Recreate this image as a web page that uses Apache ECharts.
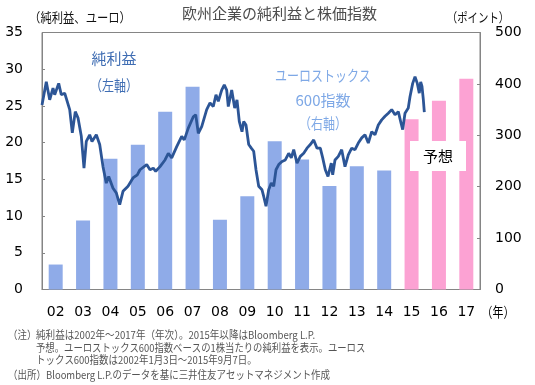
<!DOCTYPE html>
<html>
<head>
<meta charset="utf-8">
<script src="https://cdn.jsdelivr.net/npm/echarts@6/dist/echarts.min.js"></script>
<style>
html,body{margin:0;padding:0;background:#fff;}
#c{width:535px;height:385px;}
</style>
</head>
<body>
<div id="c"></div>
<script>
// Categories (years) and net profit per share (left axis, EUR)
const years = ['02','03','04','05','06','07','08','09','10','11','12','13','14','15','16','17'];
const netProfit = [3.4, 9.4, 17.8, 19.7, 24.2, 27.6, 9.5, 12.7, 20.2, 17.7, 14.1, 16.8, 16.2, 23.2, 25.7, 28.7];
const forecastFrom = 13; // index of '15' (Bloomberg forecast from 2015)

// STOXX Europe 600 index (right axis), x in category units from the start of '02'
const stoxxX = [0.00,0.157,0.281,0.402,0.464,0.610,0.705,0.829,1.012,1.107,1.216,1.315,1.436,1.534,1.618,1.742,1.826,1.984,2.108,2.228,2.349,2.437,2.594,2.714,2.838,2.959,3.142,3.324,3.481,3.580,3.825,3.945,4.066,4.153,4.311,4.493,4.614,4.738,4.921,5.103,5.198,5.344,5.527,5.615,5.710,5.834,6.016,6.137,6.257,6.356,6.440,6.564,6.659,6.747,6.805,6.930,7.039,7.123,7.207,7.306,7.368,7.452,7.551,7.646,7.733,7.817,7.916,8.037,8.099,8.183,8.281,8.376,8.464,8.548,8.647,8.767,8.888,9.012,9.107,9.195,9.315,9.436,9.560,9.680,9.801,9.925,10.046,10.166,10.254,10.349,10.447,10.568,10.619,10.703,10.824,10.948,11.068,11.189,11.313,11.434,11.554,11.679,11.799,11.920,12.044,12.164,12.285,12.409,12.530,12.650,12.774,12.895,13.016,13.114,13.176,13.260,13.380,13.443,13.541,13.626,13.710,13.782,13.833,13.881,13.929,13.966];
const stoxxY = [359,404,369,392,379,401,379,382,350,305,346,334,298,236,288,301,288,301,282,239,207,220,197,188,165,191,201,217,223,233,243,233,236,230,239,252,265,256,278,298,291,314,336,340,304,317,350,363,356,379,366,388,398,388,356,388,353,369,327,307,327,320,282,275,269,233,201,194,181,162,194,207,201,233,243,249,252,265,256,272,246,259,265,275,282,291,275,275,256,233,220,246,223,252,259,272,239,262,275,272,285,295,301,285,307,301,320,330,337,343,350,340,346,324,311,343,353,375,401,414,401,382,404,395,370,345];

// Axis ticks
const leftMin = 0, leftMax = 35, leftStep = 5;
const rightMin = 0, rightMax = 500, rightStep = 100;

const noteLines = [
  '純利益は2002年～2017年（年次）。2015年以降はBloomberg L.P.',
  '予想。ユーロストックス600指数ベースの1株当たりの純利益を表示。ユーロス',
  'トックス600指数は2002年1月3日～2015年9月7日。'
];
const sourceLine = 'Bloomberg L.P.のデータを基に三井住友アセットマネジメント作成';

const FONT = '"DejaVu Sans","Noto Sans CJK JP",sans-serif';
const JP = '"Noto Sans CJK JP",sans-serif';
const axisGray = '#858585';

const chart = echarts.init(document.getElementById('c'));
const lineData = stoxxX.map((x, i) => [x, stoxxY[i]]);
const barData = netProfit.map((v, i) => ({
  value: v,
  itemStyle: { color: i >= forecastFrom ? '#fca2d3' : '#8fabe8' }
}));

function txt(x, y, text, opt, sx) {
  return {
    type: 'text', x: x, y: y, z: 100, scaleX: sx || 1,
    style: Object.assign({ text: text, font: '11px ' + JP, fill: '#555', textAlign: 'left', textVerticalAlign: 'middle' }, opt || {})
  };
}

chart.setOption({
  animation: false,
  grid: { left: 42, right: 55, top: 32.5, bottom: 95.5, show: true, borderColor: axisGray, borderWidth: 1, backgroundColor: 'transparent' },
  xAxis: [
    {
      type: 'category', data: years, boundaryGap: true,
      axisLine: { lineStyle: { color: axisGray } },
      axisTick: { inside: true, length: 4, lineStyle: { color: axisGray } },
      axisLabel: { margin: 16, fontSize: 14, color: '#000', fontFamily: FONT }
    },
    { type: 'value', min: 0, max: 16, show: false }
  ],
  yAxis: [
    {
      type: 'value', min: leftMin, max: leftMax, interval: leftStep, position: 'left',
      splitLine: { show: false },
      axisLine: { show: true, lineStyle: { color: axisGray } },
      axisTick: { show: true, inside: true, length: 3, lineStyle: { color: axisGray } },
      axisLabel: { margin: 19, fontSize: 14, color: '#000', fontFamily: FONT }
    },
    {
      type: 'value', min: rightMin, max: rightMax, interval: rightStep, position: 'right',
      splitLine: { show: false },
      axisLine: { show: true, lineStyle: { color: axisGray } },
      axisTick: { show: true, inside: true, length: 3, lineStyle: { color: axisGray } },
      axisLabel: { margin: 15, fontSize: 14, color: '#000', fontFamily: FONT }
    }
  ],
  series: [
    { type: 'bar', xAxisIndex: 0, yAxisIndex: 0, barWidth: 14, data: barData, silent: true, z: 2 },
    { type: 'line', xAxisIndex: 1, yAxisIndex: 1, data: lineData, showSymbol: false, silent: true, z: 5,
      lineStyle: { color: '#2c5596', width: 2.8 } }
  ],
  graphic: [
    txt(279.5, 13, '欧州企業の純利益と株価指数', { font: '15px ' + JP, fill: '#4d4d4d', textAlign: 'center' }),
    txt(80, 17, '（純利益、ユーロ）', { font: '13px ' + JP, fill: '#111', textAlign: 'center' }, 0.87),
    txt(478, 17, '（ポイント）', { font: '13px ' + JP, fill: '#111', textAlign: 'center' }, 0.8),
    txt(498, 312, '（年）', { font: '14px ' + JP, fill: '#000', textAlign: 'center' }, 0.78),
    txt(114, 58, '純利益', { font: '15px ' + JP, fill: '#3f6db3', textAlign: 'center' }),
    txt(114, 85, '（左軸）', { font: '15px ' + JP, fill: '#3f6db3', textAlign: 'center' }, 0.8),
    txt(323, 75, 'ユーロストックス', { font: '15px ' + JP, fill: '#7ea8e6', textAlign: 'center' }, 0.8),
    txt(323, 100, '600指数', { font: '15px ' + JP, fill: '#7ea8e6', textAlign: 'center' }),
    txt(323, 123, '（右軸）', { font: '15px ' + JP, fill: '#7ea8e6', textAlign: 'center' }, 0.8),
    { type: 'rect', z: 90, shape: { x: 410, y: 141, width: 56, height: 30 }, style: { fill: '#fff' } },
    txt(438, 156, '予想', { font: '15px ' + JP, fill: '#000', textAlign: 'center' }),
    txt(8, 335, '（注）', { font: '11px ' + JP }, 0.86),
    txt(36, 335, noteLines[0], { font: '11px ' + JP }, 0.87),
    txt(36, 347.5, noteLines[1], { font: '11px ' + JP }, 0.85),
    txt(36, 360, noteLines[2], { font: '11px ' + JP }, 0.86),
    txt(8, 375, '（出所）', { font: '11px ' + JP }, 0.86),
    txt(46, 375, sourceLine, { font: '11px ' + JP }, 0.86)
  ]
});
</script>
</body>
</html>
